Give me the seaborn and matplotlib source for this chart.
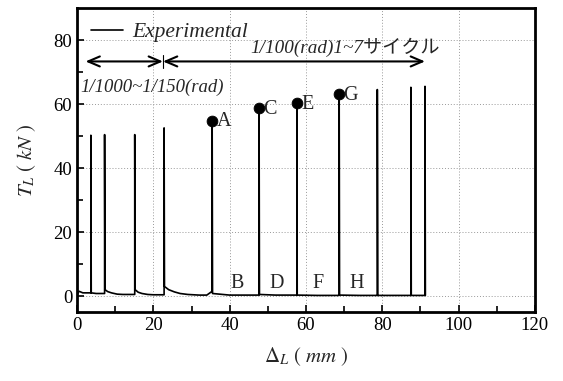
import matplotlib
matplotlib.use("Agg")
import matplotlib.pyplot as plt
import seaborn as sns
import pandas as pd

# ---- data ----
disp = [0, 0.5, 1.5, 3.6, 3.6, 3.7, 5.0, 7.2, 7.2, 7.3, 8.0, 9.0, 10.5, 12.0,
        15.1, 15.1, 15.2, 16.0, 17.0, 18.5, 20.0, 22.8, 22.8, 22.9, 24.0, 25.5,
        27.0, 29.0, 32.0, 34.0, 35.4, 35.4, 35.5, 40.0, 47.7, 47.7, 47.8, 52.0,
        57.6, 57.6, 57.7, 63.0, 68.7, 68.7, 68.8, 74.0, 78.7, 78.7, 78.8, 83.0,
        87.5, 87.5, 87.6, 89.0, 91.2, 91.2, 91.3]
load = [0.5, 1.5, 1.0, 1.0, 50.3, 1.0, 0.8, 0.8, 50.5, 2.0, 1.4, 1.0, 0.6, 0.5,
        0.5, 50.5, 2.0, 1.2, 0.8, 0.5, 0.4, 0.4, 52.6, 3.0, 2.0, 1.3,
        0.8, 0.5, 0.3, 0.3, 1.5, 54.9, 0.8, 0.3, 0.3, 58.9, 0.5, 0.3,
        0.3, 60.5, 0.3, 0.2, 0.2, 63.3, 0.3, 0.2, 0.2, 64.6, 0.2, 0.2,
        0.2, 65.3, 0.2, 0.2, 0.2, 65.6, 0.2]

peak_labels = ["A", "C", "E", "G"]
peak_x = [35.4, 47.7, 57.6, 68.7]
peak_y = [54.9, 58.9, 60.5, 63.3]

valley_labels = ["B", "D", "F", "H"]
valley_x = [41.9, 52.4, 63.1, 73.3]
valley_y = [4.0, 4.0, 4.0, 4.0]

x_ticks = [0, 20, 40, 60, 80, 100, 120]
y_ticks = [0, 20, 40, 60, 80]

# ---- style ----
sns.set_theme(style="white")
plt.rcParams["font.family"] = ["Liberation Serif", "Noto Sans CJK JP", "DejaVu Sans"]
plt.rcParams["mathtext.fontset"] = "stix"

fig = plt.figure(figsize=(5.63, 3.81), dpi=100)
ax = fig.add_axes([0.137, 0.181, 0.813, 0.797])

df = pd.DataFrame({"disp": disp, "load": load})
sns.lineplot(data=df, x="disp", y="load", sort=False, estimator=None,
             color="black", lw=1.2, ax=ax, label="Experimental")

sns.scatterplot(x=peak_x, y=peak_y, color="black", s=60, ax=ax, zorder=5,
                edgecolor="black", legend=False)
for lab, px, py in zip(peak_labels, peak_x, peak_y):
    ax.annotate(lab, (px, py), xytext=(3, -1), textcoords="offset points",
                ha="left", va="center", fontsize=14.5, family="Liberation Serif")
for lab, vx, vy in zip(valley_labels, valley_x, valley_y):
    ax.text(vx, vy, lab, ha="center", va="center", fontsize=14.5,
            family="Liberation Serif")

# range arrows
ax.annotate("", xy=(2.2, 73.4), xytext=(22.5, 73.4),
            arrowprops=dict(arrowstyle="<->,head_length=0.7,head_width=0.3",
                            lw=1.5, color="black", shrinkA=0, shrinkB=0))
ax.annotate("", xy=(91.2, 73.4), xytext=(22.5, 73.4),
            arrowprops=dict(arrowstyle="<->,head_length=0.7,head_width=0.3",
                            lw=1.5, color="black", shrinkA=0, shrinkB=0))
ax.plot([22.5, 22.5], [71.3, 75.5], color="black", lw=0.8)
ax.text(0.9, 65.2, "1/1000~1/150(rad)", ha="left", va="center",
        fontsize=13.5, style="italic")
ax.text(45.5, 77.7, "1/100(rad)1~7サイクル", ha="left", va="center",
        fontsize=13.8, style="italic",
        family=["Liberation Serif", "Noto Sans CJK JP"])

# axes
ax.set_xlim(0, 120)
ax.set_ylim(-5, 90)
ax.set_xticks(x_ticks)
ax.set_yticks(y_ticks)
ax.set_xticks([10, 30, 50, 70, 90, 110], minor=True)
ax.set_yticks([10, 30, 50, 70], minor=True)
ax.tick_params(axis="both", which="both", direction="in", labelsize=13.5,
               colors="black", bottom=True, left=True)
ax.tick_params(which="major", length=5, width=1.2)
ax.tick_params(which="minor", length=4, width=1.2)
ax.grid(True, which="major", ls=(0, (1, 2)), color="#999999", lw=0.7)
for s in ax.spines.values():
    s.set_color("black")
    s.set_linewidth(2)

ax.set_xlabel(r"$\mathit{\Delta}_L\ (\ mm\ )$", fontsize=15, labelpad=8)
ax.set_ylabel(r"$T_L\ (\ kN\ )$", fontsize=15, labelpad=11)

leg = ax.legend(loc="upper left", frameon=False, handlelength=1.5,
                handletextpad=0.4, borderaxespad=0.25,
                prop={"family": "Liberation Serif", "style": "italic", "size": 15.5})

fig.savefig("out.png", dpi=100)
